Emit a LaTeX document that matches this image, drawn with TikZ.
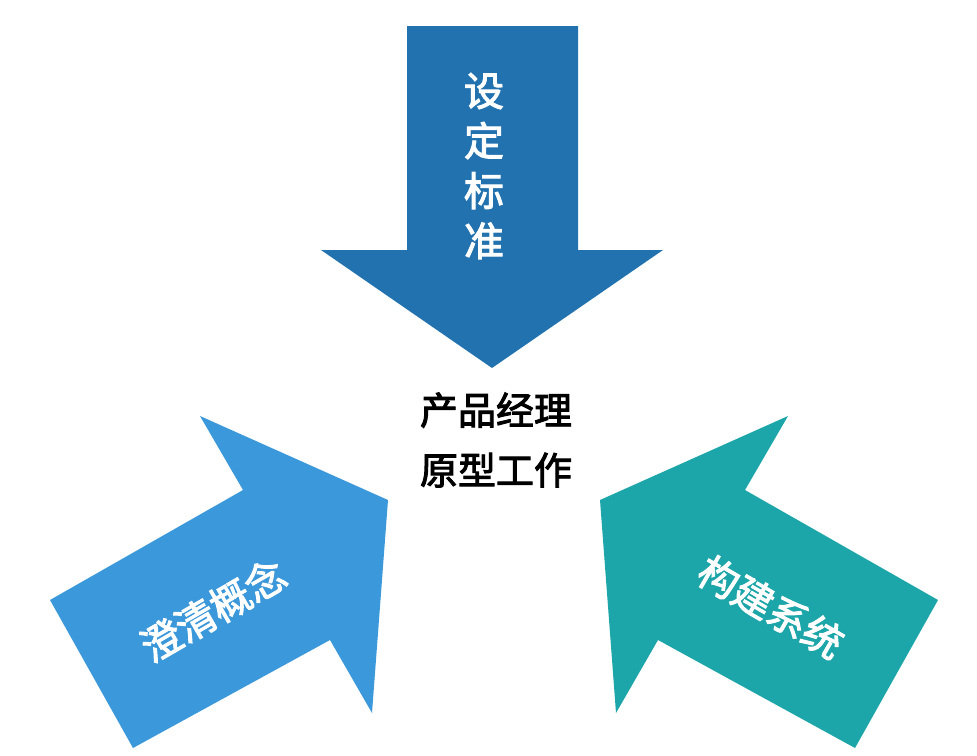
\documentclass[tikz,border=0pt]{standalone}
\usepackage{fontspec}
\newfontfamily\cjk[AutoFakeBold=2.5]{Noto Sans CJK SC}
\definecolor{topc}{HTML}{2272B0}
\definecolor{leftc}{HTML}{3A98DB}
\definecolor{rightc}{HTML}{1CA6A9}
\tikzset{
  lbl/.style={font=\cjk\bfseries\fontsize{40}{50}\selectfont,text=white,align=center,inner sep=0pt},
  ctr/.style={font=\cjk\bfseries\fontsize{38}{60}\selectfont,text=black,align=center,inner sep=0pt}}
\begin{document}
\begin{tikzpicture}[x=1pt,y=-1pt]
\useasboundingbox (0,0) rectangle (977,755);
\fill[topc] (407,26) -- (578,26) -- (578,250) -- (663,250) -- (492,368) -- (321,250) -- (407,250) -- cycle;
\fill[leftc] (50,600) -- (243,490) -- (200,416) -- (388,500) -- (372,713) -- (330,640) -- (133,748) -- cycle;
\fill[rightc] (938,600) -- (745,490) -- (788,416) -- (600,500) -- (616,713) -- (658,640) -- (855,748) -- cycle;
\node[lbl] (top) at (484,166) {设\\定\\标\\准};
\node[lbl,rotate=30] (left) at (213,610) {澄清概念};
\node[lbl,rotate=-30] (right) at (771,607) {构建系统};
\node[ctr] (center) at (496,440) {产品经理\\原型工作};
\end{tikzpicture}
\end{document}
